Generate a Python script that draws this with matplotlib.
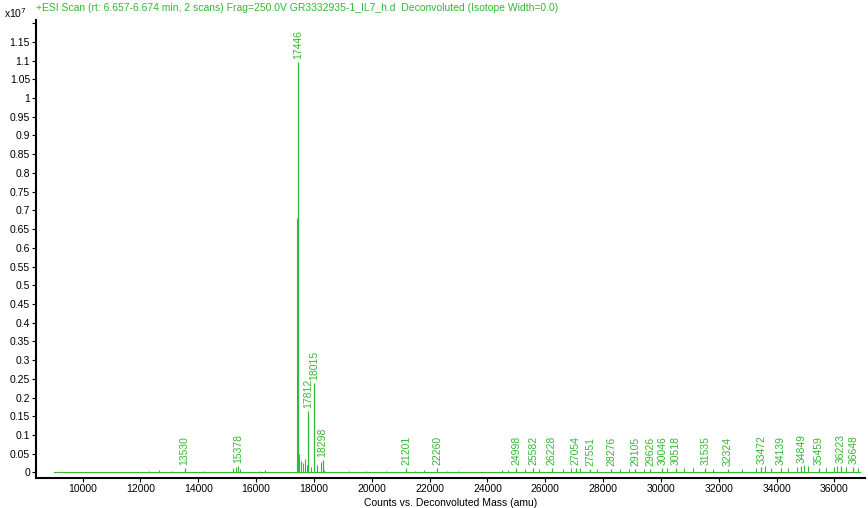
import matplotlib
matplotlib.use("Agg")
import matplotlib.pyplot as plt

plt.rcParams["font.family"] = ["Liberation Sans", "DejaVu Sans"]
GREEN = "#33b833"

# labelled peaks: mass (amu), height (x10^7 counts)
label_mass = [13530, 15378, 17446, 17812, 18015, 18298, 21201, 22260, 24998, 25582,
              26228, 27054, 27551, 28276, 29105, 29626, 30046, 30518, 31535, 32324,
              33472, 34139, 34849, 35459, 36223, 36648]
label_height = [0.012, 0.018, 1.095, 0.165, 0.24, 0.032, 0.012, 0.012, 0.012, 0.012,
                0.011, 0.012, 0.010, 0.010, 0.010, 0.010, 0.012, 0.011, 0.012, 0.010,
                0.014, 0.012, 0.018, 0.012, 0.016, 0.014]

# unlabelled peaks / noise
other_mass = [12300, 12650, 13100, 14200, 15200, 15300, 15450, 16100, 16300, 17420,
              17480, 17550, 17620, 17700, 17760, 17900, 18100, 18250, 18350, 19200,
              19800, 20500, 21500, 21800, 22600, 23000, 24500, 24700, 25300, 25800,
              26600, 26900, 27200, 27800, 28600, 28900, 29400, 30200, 30800, 31100,
              31800, 32800, 33300, 33600, 33800, 34400, 34700, 34950, 35100, 35700,
              36000, 36100, 36400, 36800]
other_height = [0.004, 0.006, 0.004, 0.003, 0.012, 0.015, 0.01, 0.005, 0.006, 0.68,
                0.05, 0.03, 0.025, 0.035, 0.02, 0.015, 0.02, 0.028, 0.006, 0.004,
                0.004, 0.003, 0.005, 0.006, 0.005, 0.004, 0.006, 0.007, 0.008, 0.009,
                0.009, 0.012, 0.011, 0.01, 0.009, 0.01, 0.009, 0.011, 0.011, 0.012,
                0.01, 0.01, 0.013, 0.016, 0.013, 0.012, 0.015, 0.02, 0.016, 0.012,
                0.015, 0.018, 0.014, 0.012]

x_ticks = list(range(10000, 36001, 2000))
y_ticks = [i * 0.05 for i in range(25)]

fig = plt.figure(figsize=(8.68, 5.08), dpi=100)
ax = fig.add_axes([0.041, 0.059, 0.956, 0.902])

# baseline
ax.plot([9000, 36900], [0.0015, 0.0015], color=GREEN, lw=0.8)
ax.vlines(other_mass, 0, other_height, color=GREEN, lw=0.8)
ax.vlines(label_mass, 0, label_height, color=GREEN, lw=0.9)

for m, h in zip(label_mass, label_height):
    ax.text(m, h + 0.008, str(m), rotation=90, ha="center", va="bottom",
            fontsize=7.5, color=GREEN)

ax.set_xlim(8377, 37070)
ax.set_ylim(-0.015, 1.209)
ax.set_xticks(x_ticks)
ax.set_xticklabels([str(t) for t in x_ticks], fontsize=7.5)
ax.set_yticks(y_ticks)
ax.set_yticklabels(["0" if i == 0 else ("" if i == 24 else f"{v:g}") for i, v in enumerate(y_ticks)],
                   fontsize=7.5)
ax.tick_params(length=3, width=0.8, pad=1)
for s in ["top", "right"]:
    ax.spines[s].set_visible(False)
ax.spines["left"].set_linewidth(1.5)
ax.spines["bottom"].set_linewidth(1.5)
ax.set_xlabel("Counts vs. Deconvoluted Mass (amu)", fontsize=7.5, labelpad=3)

fig.text(0.005, 0.975, "x10$^7$", fontsize=7.5, va="center")
fig.text(0.041, 0.985, "+ESI Scan (rt: 6.657-6.674 min, 2 scans) Frag=250.0V GR3332935-1_IL7_h.d  "
         "Deconvoluted (Isotope Width=0.0)", fontsize=7.5, color=GREEN, va="center")

fig.savefig("out.png", dpi=100)
